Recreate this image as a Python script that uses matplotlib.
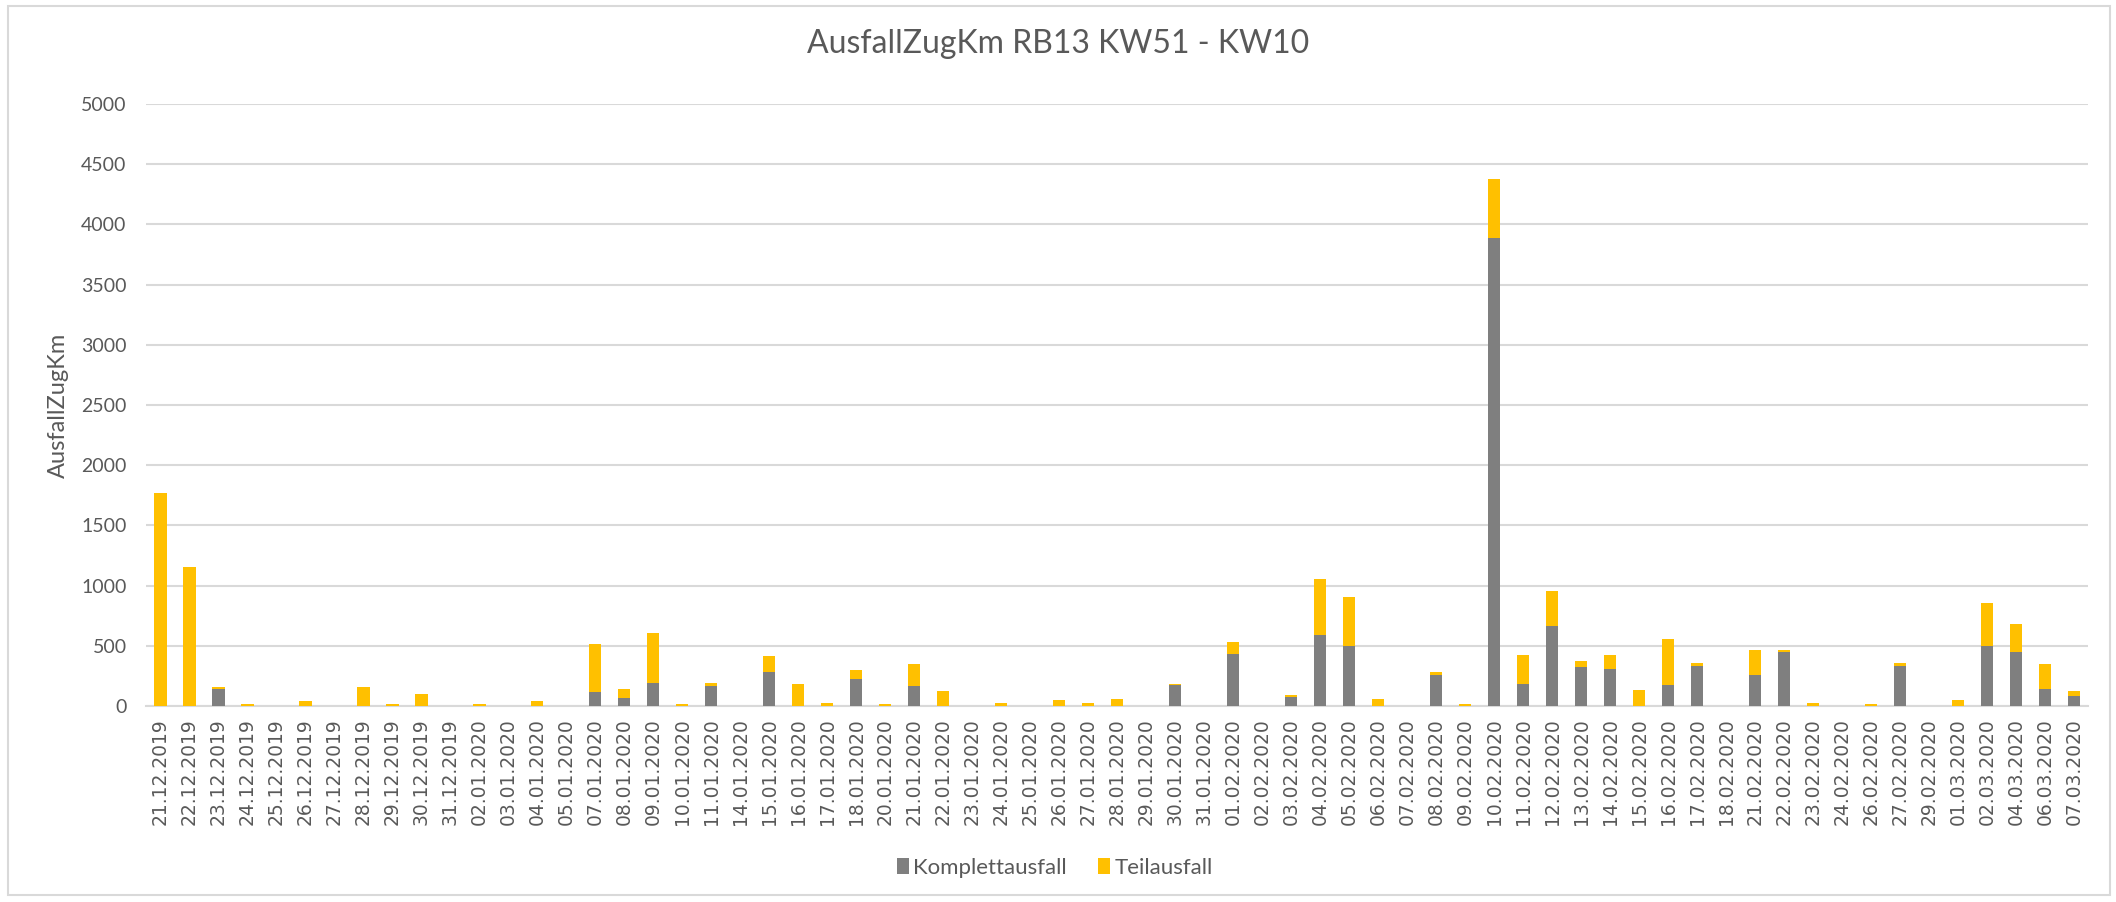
import numpy as np
import matplotlib.pyplot as plt
from matplotlib.patches import Rectangle

# Daten
dates = ["21.12.2019", "22.12.2019", "23.12.2019", "24.12.2019", "25.12.2019", "26.12.2019",
         "27.12.2019", "28.12.2019", "29.12.2019", "30.12.2019", "31.12.2019", "02.01.2020",
         "03.01.2020", "04.01.2020", "05.01.2020", "07.01.2020", "08.01.2020", "09.01.2020",
         "10.01.2020", "11.01.2020", "14.01.2020", "15.01.2020", "16.01.2020", "17.01.2020",
         "18.01.2020", "20.01.2020", "21.01.2020", "22.01.2020", "23.01.2020", "24.01.2020",
         "25.01.2020", "26.01.2020", "27.01.2020", "28.01.2020", "29.01.2020", "30.01.2020",
         "31.01.2020", "01.02.2020", "02.02.2020", "03.02.2020", "04.02.2020", "05.02.2020",
         "06.02.2020", "07.02.2020", "08.02.2020", "09.02.2020", "10.02.2020", "11.02.2020",
         "12.02.2020", "13.02.2020", "14.02.2020", "15.02.2020", "16.02.2020", "17.02.2020",
         "18.02.2020", "21.02.2020", "22.02.2020", "23.02.2020", "24.02.2020", "26.02.2020",
         "27.02.2020", "29.02.2020", "01.03.2020", "02.03.2020", "04.03.2020", "06.03.2020",
         "07.03.2020"]

komplett = [0, 0, 144, 0, 0, 0, 0, 0, 0, 0, 0, 0,
            0, 0, 0, 113, 69, 188, 0, 166, 0, 282, 0, 0,
            227, 0, 166, 0, 0, 0, 0, 0, 0, 0, 0, 174,
            0, 434, 0, 72, 592, 495, 0, 0, 260, 0, 3883, 182,
            662, 328, 307, 0, 171, 332, 0, 260, 445, 0, 0, 0,
            329, 0, 0, 495, 448, 144, 80]

teil = [1770, 1156, 14, 20, 0, 40, 0, 155, 20, 102, 0, 20,
        0, 40, 0, 399, 69, 418, 20, 22, 0, 133, 185, 28,
        74, 19, 185, 124, 0, 28, 0, 53, 28, 61, 0, 11,
        0, 97, 0, 22, 459, 410, 61, 0, 22, 19, 498, 240,
        290, 45, 114, 133, 387, 22, 0, 207, 22, 28, 0, 19,
        25, 0, 53, 357, 230, 207, 44]

grau = "#7F7F7F"
gelb = "#FFC000"
txt = "#595959"

plt.rcParams['font.family'] = ['Lato', 'DejaVu Sans']

fig = plt.figure(figsize=(21.16, 9.02), dpi=100)
ax = fig.add_axes([0.069, 0.2173, 0.918, 0.6674])

x = np.arange(len(dates))
ax.bar(x, komplett, width=0.42, color=grau, label="Komplettausfall", zorder=3)
ax.bar(x, teil, width=0.42, bottom=komplett, color=gelb, label="Teilausfall", zorder=3)

ax.set_xlim(-0.5, len(dates) - 0.5)
ax.set_ylim(0, 5000)
ax.set_yticks(np.arange(0, 5001, 500))
ax.yaxis.grid(True, color="#D9D9D9", linewidth=1.5, zorder=0)
ax.set_axisbelow(True)
for s in ["top", "right", "left"]:
    ax.spines[s].set_visible(False)
ax.spines["bottom"].set_color("#D9D9D9")
ax.spines["bottom"].set_linewidth(1.5)

ax.set_xticks(x)
ax.set_xticklabels(dates, rotation=90, fontsize=13.5, color=txt, family="DejaVu Sans")
ax.tick_params(axis="x", length=0, pad=9)
ax.tick_params(axis="y", length=0, pad=14, labelsize=14, labelcolor=txt)

ax.set_ylabel("AusfallZugKm", fontsize=17, color=txt, labelpad=9)
fig.suptitle("AusfallZugKm RB13 KW51 - KW10", fontsize=23, color=txt, y=0.968)

leg = fig.legend(loc="center", bbox_to_anchor=(0.4985, 0.038), ncol=2, frameon=False,
                 fontsize=16, handlelength=0.55, handleheight=0.7, columnspacing=1.4,
                 handletextpad=0.2)
for t in leg.get_texts():
    t.set_color(txt)

fig.patches.append(Rectangle((0.004, 0.008), 0.993, 0.985, transform=fig.transFigure,
                             fill=False, edgecolor="#D9D9D9", linewidth=1.5))

fig.savefig("out.png", dpi=100)
